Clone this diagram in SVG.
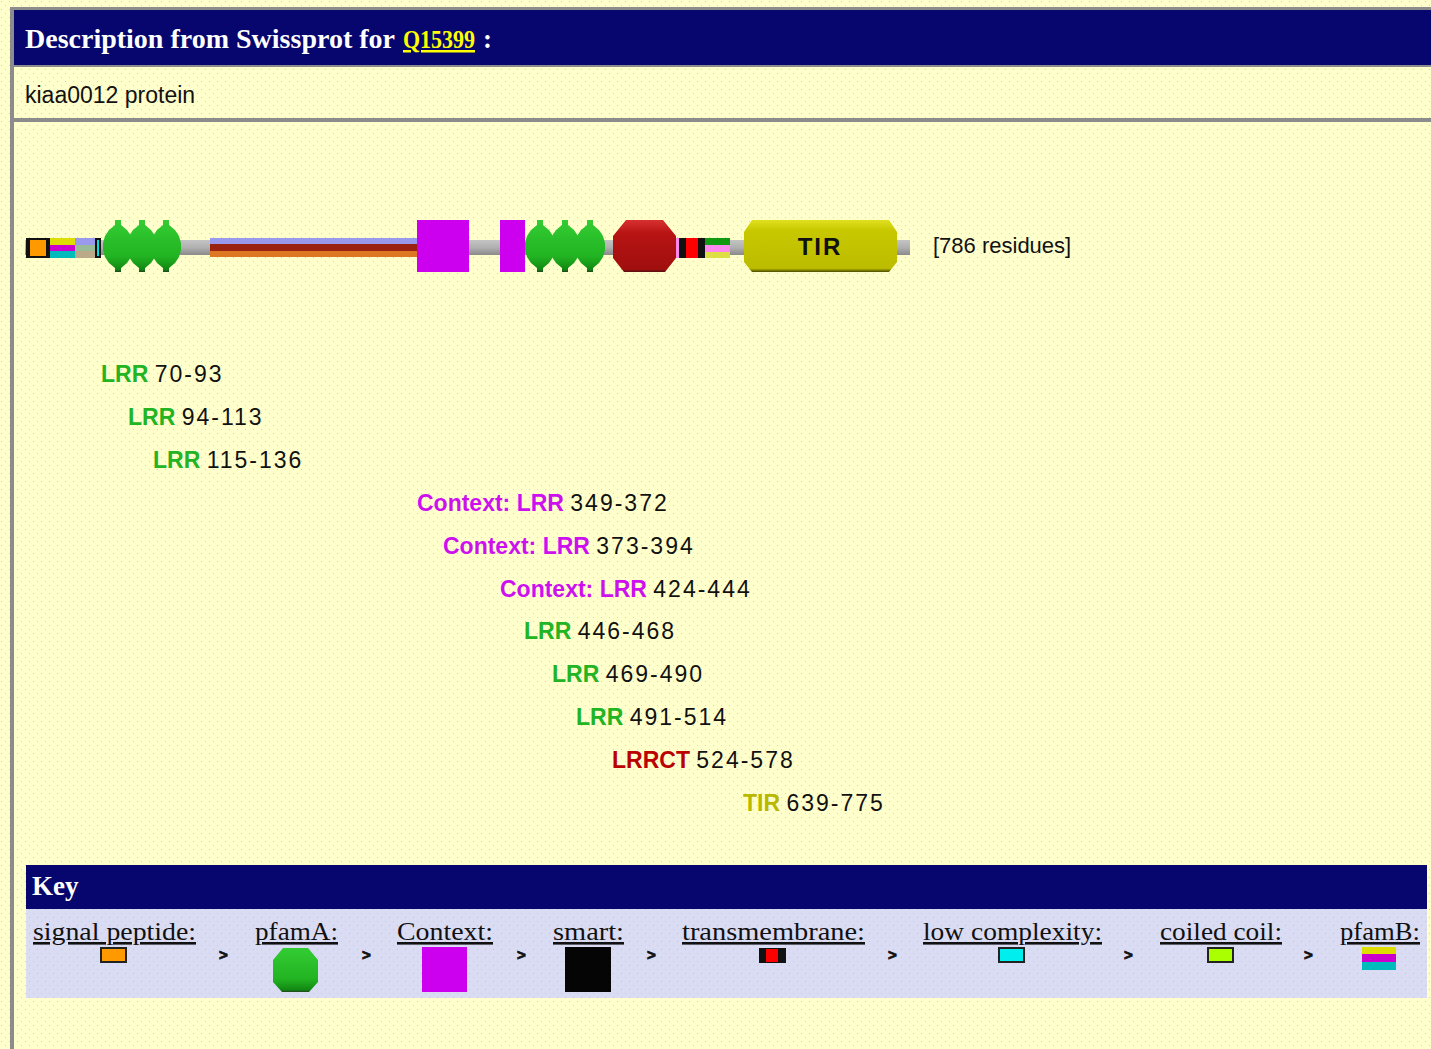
<svg xmlns="http://www.w3.org/2000/svg" width="1431" height="1049" viewBox="0 0 1431 1049">
<defs>
<pattern id="dots" width="8" height="8" patternUnits="userSpaceOnUse"><rect width="8" height="8" fill="#ffffcc"/><rect x="1" y="1" width="1" height="1" fill="#d2d2cc"/><rect x="5" y="5" width="1" height="1" fill="#d2d2cc"/></pattern>
<pattern id="kdots" width="8" height="8" patternUnits="userSpaceOnUse"><rect width="8" height="8" fill="#dadcf4"/><rect x="1" y="1" width="1" height="1" fill="#c4c6e6"/><rect x="5" y="5" width="1" height="1" fill="#c4c6e6"/></pattern>
<linearGradient id="gback" x1="0" y1="0" x2="0" y2="1"><stop offset="0" stop-color="#c4c4c4"/><stop offset="0.5" stop-color="#b0b0b0"/><stop offset="1" stop-color="#8a8a8a"/></linearGradient>
<linearGradient id="ggreen" x1="0" y1="0" x2="0" y2="1"><stop offset="0" stop-color="#33cc33"/><stop offset="0.7" stop-color="#22b422"/><stop offset="0.95" stop-color="#118811"/><stop offset="1" stop-color="#224422"/></linearGradient>
<linearGradient id="gred" x1="0" y1="0" x2="0" y2="1"><stop offset="0" stop-color="#d83030"/><stop offset="0.25" stop-color="#b81414"/><stop offset="0.95" stop-color="#a00e0e"/><stop offset="1" stop-color="#501010"/></linearGradient>
<linearGradient id="gtir" x1="0" y1="0" x2="0" y2="1"><stop offset="0" stop-color="#e0e020"/><stop offset="0.2" stop-color="#c8c800"/><stop offset="0.93" stop-color="#bcbc00"/><stop offset="1" stop-color="#4a4a00"/></linearGradient>
<path id="lrr" d="M-3,220 H3 V225 L9,230 L13,236 L15,243 L15,250 L13,257 L9,263 L3,268 V272 H-3 V268 L-9,263 L-13,257 L-15,250 L-15,243 L-13,236 L-9,230 L-3,225 Z"/>
</defs>
<style>
.hdr{font-family:"Liberation Serif","DejaVu Serif",serif;font-weight:bold;fill:#ffffff}
.sans{font-family:"Liberation Sans",Arial,sans-serif}
.lab{font-family:"Liberation Sans",Arial,sans-serif;font-size:23px}
.nm{font-weight:bold}
.num{fill:#111111;letter-spacing:2px}
.g{fill:#22b422}.m{fill:#cc11ee}.r{fill:#bb0000}.y{fill:#b8b800}
.key{font-family:"Liberation Serif","DejaVu Serif",serif;font-size:26px;fill:#111111;text-decoration:underline}
.gt{font-family:"Liberation Sans",Arial,sans-serif;font-size:15px;font-weight:bold;fill:#111111;stroke:#111111;stroke-width:0.8}
.ol{stroke:#222222;stroke-width:2}
</style>

<rect width="1431" height="1049" fill="url(#dots)"/>
<rect x="10" y="7" width="4" height="1042" fill="#8c8c8c"/>

<g id="header">
<rect x="10" y="7" width="1421" height="60" fill="#8c8c8c"/>
<rect x="14" y="10" width="1417" height="55" fill="#06066e"/>
<text class="hdr" x="25" y="48" font-size="27" textLength="370" lengthAdjust="spacingAndGlyphs">Description from Swissprot for</text>
<text class="hdr" x="403" y="48" font-size="25" style="fill:#ffff00" text-decoration="underline" textLength="72" lengthAdjust="spacingAndGlyphs">Q15399</text>
<text class="hdr" x="483" y="48" font-size="27">:</text>
</g>

<g id="description">
<rect x="14" y="67" width="1417" height="51" fill="url(#dots)"/>
<rect x="10" y="118" width="1421" height="4" fill="#8c8c8c"/>
<text class="sans" x="25" y="103" font-size="23" fill="#111111">kiaa0012 protein</text>
</g>

<g id="connectors">
<rect x="25" y="240" width="885" height="15" fill="url(#gback)"/>
</g>

<g id="protein">
<g id="signal">
<rect x="26" y="238" width="24" height="20" fill="#111111"/>
<rect x="30" y="240" width="16" height="16" fill="#ff9900"/>
</g>
<g id="pfamb1">
<rect x="50" y="238" width="25" height="7" fill="#dddd00"/>
<rect x="50" y="245" width="25" height="6" fill="#cc00cc"/>
<rect x="50" y="251" width="25" height="7" fill="#00bbbb"/>
<rect x="75" y="238" width="20" height="7" fill="#9999ee"/>
<rect x="75" y="245" width="20" height="6" fill="#99bb99"/>
<rect x="75" y="251" width="20" height="7" fill="#bbaa88"/>
<rect x="95" y="238" width="6" height="20" fill="#111111"/>
<rect x="97" y="240" width="2" height="16" fill="#00dddd"/>
</g>
<g id="lrr1" fill="url(#ggreen)">
<use href="#lrr" x="118"/><use href="#lrr" x="142"/><use href="#lrr" x="166"/>
</g>
<g id="pfamb2">
<rect x="210" y="238" width="207" height="6" fill="#9999ee"/>
<rect x="210" y="244" width="207" height="7" fill="#992211"/>
<rect x="210" y="251" width="207" height="6" fill="#dd7722"/>
</g>
<rect id="context1" x="417" y="220" width="52" height="52" fill="#cc00ee"/>
<rect id="context3" x="500" y="220" width="25" height="52" fill="#cc00ee"/>
<g id="lrr2" fill="url(#ggreen)">
<use href="#lrr" x="540"/><use href="#lrr" x="565"/><use href="#lrr" x="590"/>
</g>
<polygon id="lrrct" points="626,220 663,220 676,236 676,258 665,272 624,272 613,258 613,236" fill="url(#gred)"/>
<g id="tm">
<rect x="676" y="238" width="3" height="20" fill="#ff88ee"/>
<rect x="679" y="238" width="7" height="20" fill="#111111"/>
<rect x="686" y="238" width="12" height="20" fill="#ff0000"/>
<rect x="698" y="238" width="7" height="20" fill="#111111"/>
<rect x="705" y="238" width="25" height="7" fill="#119911"/>
<rect x="705" y="245" width="25" height="7" fill="#ff88ee"/>
<rect x="705" y="252" width="25" height="6" fill="#dddd44"/>
</g>
<g id="tir">
<polygon points="752,220 889,220 897,232 897,262 889,272 752,272 744,262 744,232" fill="url(#gtir)"/>
<text class="sans" x="820" y="255" font-size="24" font-weight="bold" fill="#111111" text-anchor="middle" letter-spacing="2">TIR</text>
</g>
<text id="length" class="sans" x="933" y="253" font-size="22" fill="#111111">[786 residues]</text>
</g>

<g id="labels">
<text id="l1" class="lab" x="101" y="382"><tspan class="nm g">LRR</tspan> <tspan class="num">70-93</tspan></text>
<text id="l2" class="lab" x="128" y="425"><tspan class="nm g">LRR</tspan> <tspan class="num">94-113</tspan></text>
<text id="l3" class="lab" x="153" y="468"><tspan class="nm g">LRR</tspan> <tspan class="num">115-136</tspan></text>
<text id="l4" class="lab" x="417" y="511"><tspan class="nm m">Context: LRR</tspan> <tspan class="num">349-372</tspan></text>
<text id="l5" class="lab" x="443" y="554"><tspan class="nm m">Context: LRR</tspan> <tspan class="num">373-394</tspan></text>
<text id="l6" class="lab" x="500" y="597"><tspan class="nm m">Context: LRR</tspan> <tspan class="num">424-444</tspan></text>
<text id="l7" class="lab" x="524" y="639"><tspan class="nm g">LRR</tspan> <tspan class="num">446-468</tspan></text>
<text id="l8" class="lab" x="552" y="682"><tspan class="nm g">LRR</tspan> <tspan class="num">469-490</tspan></text>
<text id="l9" class="lab" x="576" y="725"><tspan class="nm g">LRR</tspan> <tspan class="num">491-514</tspan></text>
<text id="l10" class="lab" x="612" y="768"><tspan class="nm r">LRRCT</tspan> <tspan class="num">524-578</tspan></text>
<text id="l11" class="lab" x="743" y="811"><tspan class="nm y">TIR</tspan> <tspan class="num">639-775</tspan></text>
</g>

<g id="key">
<rect x="26" y="865" width="1401" height="44" fill="#06066e"/>
<text class="hdr" x="32" y="895" font-size="27">Key</text>
<rect x="26" y="909" width="1401" height="89" fill="url(#kdots)"/>
<g id="k-signal"><text class="key" x="33" y="940" textLength="163" lengthAdjust="spacingAndGlyphs">signal peptide:</text><rect x="101" y="948" width="25" height="14" fill="#ff9900" class="ol"/></g>
<text class="gt" x="219" y="960">&gt;</text>
<g id="k-pfama"><text class="key" x="255" y="940" textLength="83" lengthAdjust="spacingAndGlyphs">pfamA:</text><polygon points="283,948 308,948 318,960 318,982 309,992 282,992 273,982 273,960" fill="url(#ggreen)"/></g>
<text class="gt" x="362" y="960">&gt;</text>
<g id="k-context"><text class="key" x="397" y="940" textLength="96" lengthAdjust="spacingAndGlyphs">Context:</text><rect x="422" y="947" width="45" height="45" fill="#cc00ee"/></g>
<text class="gt" x="517" y="960">&gt;</text>
<g id="k-smart"><text class="key" x="553" y="940" textLength="71" lengthAdjust="spacingAndGlyphs">smart:</text><rect x="565" y="947" width="46" height="45" fill="#050505"/></g>
<text class="gt" x="647" y="960">&gt;</text>
<g id="k-tm"><text class="key" x="682" y="940" textLength="183" lengthAdjust="spacingAndGlyphs">transmembrane:</text><rect x="759" y="948" width="27" height="15" fill="#111111"/><rect x="766" y="949" width="12" height="13" fill="#ff0000"/></g>
<text class="gt" x="888" y="960">&gt;</text>
<g id="k-low"><text class="key" x="923" y="940" textLength="179" lengthAdjust="spacingAndGlyphs">low complexity:</text><rect x="999" y="948" width="25" height="14" fill="#00eeee" class="ol"/></g>
<text class="gt" x="1124" y="960">&gt;</text>
<g id="k-coil"><text class="key" x="1160" y="940" textLength="122" lengthAdjust="spacingAndGlyphs">coiled coil:</text><rect x="1208" y="948" width="25" height="14" fill="#aaff00" class="ol"/></g>
<text class="gt" x="1304" y="960">&gt;</text>
<g id="k-pfamb"><text class="key" x="1340" y="940" textLength="80" lengthAdjust="spacingAndGlyphs">pfamB:</text><rect x="1362" y="947" width="34" height="7" fill="#dddd00"/><rect x="1362" y="954" width="34" height="8" fill="#cc00cc"/><rect x="1362" y="962" width="34" height="8" fill="#00bbbb"/></g>
</g>
</svg>
